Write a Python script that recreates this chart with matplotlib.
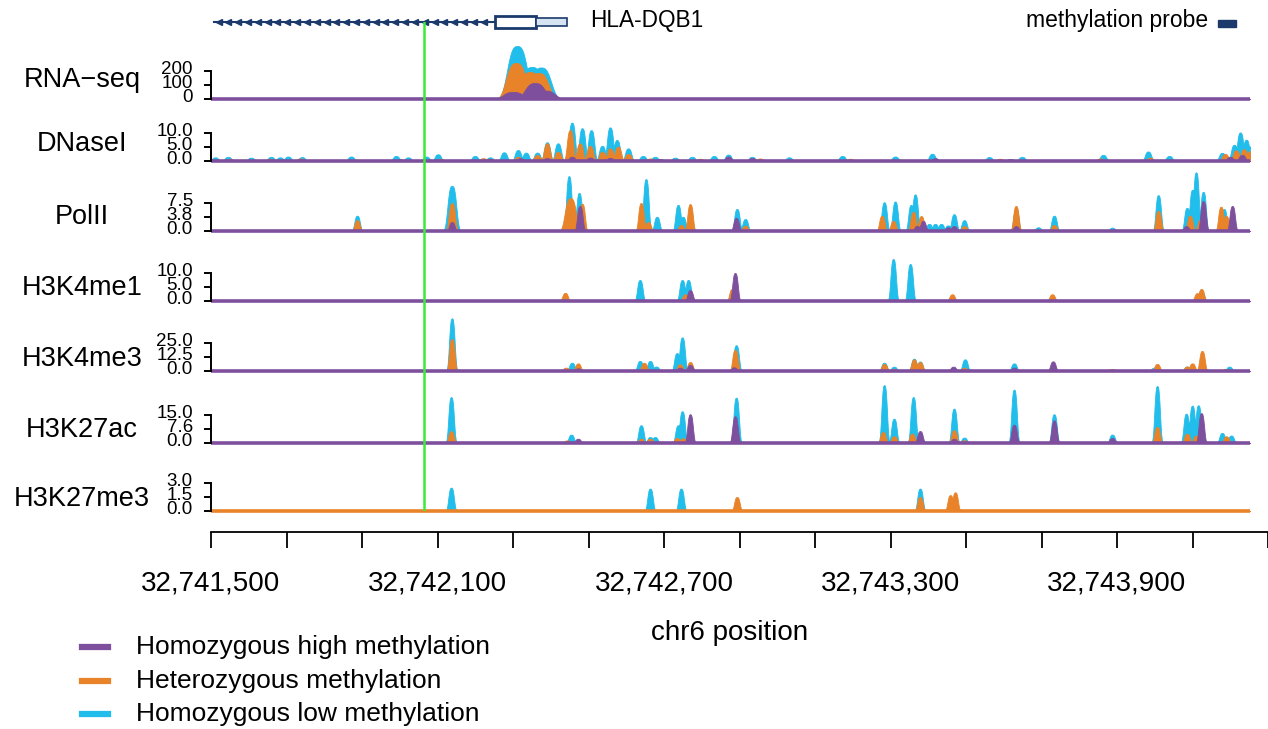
import numpy as np
import matplotlib
matplotlib.use("Agg")
import matplotlib.pyplot as plt
import matplotlib.transforms as mtransforms
from matplotlib.patches import Rectangle
from matplotlib.lines import Line2D

plt.rcParams['font.family'] = ['Liberation Sans', 'DejaVu Sans']

W, H = 1268, 729

# region / gene model (chr6)
region_start = 32741500
region_end = 32744252
axis_end = 32744300
probe_pos = 32742064
gene_name = "HLA-DQB1"
gene_start = 32741508
cds_start = 32742252
cds_end = 32742361
utr_end = 32742443

groups = ["Homozygous high methylation", "Heterozygous methylation", "Homozygous low methylation"]
col_high = "#7E4F9D"
col_het = "#E9832A"
col_low = "#21BDEB"
navy = "#1B3A6B"

track_names = ["RNA\u2212seq", "DNaseI", "PolII", "H3K4me1", "H3K4me3", "H3K27ac", "H3K27me3"]
track_ticks = [[0, 100, 200], [0, 5, 10], [0, 3.75, 7.5], [0, 5, 10], [0, 12.5, 25], [0, 7.6, 15], [0, 1.5, 3]]
track_ticklabels = [["0", "100", "200"], ["0.0", "5.0", "10.0"], ["0.0", "3.8", "7.5"], ["0.0", "5.0", "10.0"],
                    ["0.0", "12.5", "25.0"], ["0.0", "7.6", "15.0"], ["0.0", "1.5", "3.0"]]
peak_sd = [25, 8, 7, 7, 7, 7, 7]

# peaks: (position, signal[, width]) per methylation group
rna_low = [(32742311, 378), (32742350, 229), (32742374, 225)]
rna_het = [(32742308, 257), (32742345, 193), (32742368, 185)]
rna_high = [(32742300, 50), (32742358, 114), (32742385, 60)]

dnase_low = [(32741511, 1.3), (32741545, 1.5), (32741606, 1.2), (32741659, 1.5), (32741683, 1.3),
             (32741704, 1.6), (32741741, 1.4), (32741871, 1.6), (32741990, 1.8), (32742022, 1.3),
             (32742070, 1.6), (32742101, 2.4), (32742199, 1.8), (32742239, 1.3), (32742276, 3.1),
             (32742313, 3.9), (32742334, 3.0), (32742364, 3.0), (32742390, 6.7), (32742419, 6.3),
             (32742456, 13.7), (32742483, 11.7), (32742507, 11.0), (32742536, 5.4), (32742557, 12.0),
             (32742575, 7.5), (32742605, 4.5), (32742644, 1.8), (32742676, 1.5), (32742729, 1.2),
             (32742774, 1.5), (32742832, 1.8), (32742870, 2.3), (32742933, 1.5), (32743031, 1.3),
             (32743172, 1.8), (32743312, 1.6), (32743410, 2.6), (32743561, 1.4), (32743648, 1.5),
             (32743863, 2.2), (32743982, 3.4), (32744038, 1.8), (32744178, 2.9), (32744210, 5.8),
             (32744226, 10.2), (32744242, 7.6), (32744252, 5.2)]
dnase_het = [(32741550, 0.8), (32741656, 0.8), (32741736, 0.9), (32742107, 0.8), (32742221, 1.0),
             (32742239, 0.8), (32742313, 1.5), (32742364, 2.1), (32742390, 6.3), (32742419, 3.3),
             (32742451, 11.0), (32742477, 6.3), (32742504, 5.4), (32742536, 3.3), (32742557, 4.5),
             (32742578, 5.1), (32742605, 2.5), (32742663, 0.9), (32742795, 0.8), (32742954, 0.9),
             (32743193, 0.8), (32743590, 0.8), (32743855, 0.9), (32743987, 1.2), (32744186, 2.5),
             (32744215, 3.8), (32744236, 4.2), (32744252, 3.5)]
dnase_high = [(32741736, 0.6), (32742001, 0.6), (32742239, 0.7), (32742319, 1.0), (32742390, 1.0),
              (32742456, 1.5), (32742504, 1.2), (32742557, 1.1), (32742689, 0.7), (32742870, 1.6),
              (32742933, 1.1), (32743418, 1.0), (32743617, 0.7), (32744199, 1.5), (32744231, 2.2)]

polii_low = [(32741887, 4.1), (32742138, 12.1, 11), (32742448, 14.7), (32742475, 10.2),
             (32742652, 13.9), (32742681, 3.8), (32742737, 7.0), (32742750, 3.8), (32742893, 5.9),
             (32742915, 3.2), (32743283, 7.7), (32743312, 7.9), (32743354, 7.0), (32743365, 9.8),
             (32743402, 1.9), (32743418, 1.9), (32743434, 1.9), (32743452, 1.5), (32743468, 4.5),
             (32743495, 2.9), (32743632, 6.0), (32743691, 1.0), (32743733, 4.1), (32743887, 0.9),
             (32744009, 9.6), (32744085, 6.2), (32744099, 11.0), (32744109, 15.7), (32744128, 10.5),
             (32744183, 5.9)]
polii_het = [(32741887, 2.9), (32742138, 7.5, 8), (32742452, 8.8, 14), (32742483, 7.3),
             (32742639, 7.5), (32742658, 2.4), (32742745, 1.6), (32742769, 7.2), (32742915, 1.4),
             (32743277, 4.1), (32743307, 2.7), (32743360, 5.1), (32743381, 4.0), (32743495, 1.3),
             (32743632, 6.7), (32743733, 1.6), (32744009, 5.4), (32744093, 4.1), (32744120, 3.0),
             (32744175, 6.5), (32744189, 4.0)]
polii_high = [(32742138, 2.4), (32742477, 6.7), (32742891, 3.5), (32743370, 1.4), (32743386, 2.7),
              (32743452, 1.0), (32743468, 1.3), (32743632, 1.3), (32744083, 1.3), (32744128, 8.0),
              (32744205, 6.7)]

h3k4me1_low = [(32742636, 7.5), (32742748, 7.5), (32742764, 7.5), (32743307, 15.0), (32743352, 13.2),
               (32744123, 3.8)]
h3k4me1_het = [(32742438, 2.9), (32742756, 2.4), (32742880, 4.3), (32743463, 2.4), (32743728, 2.4),
               (32744112, 2.8), (32744123, 4.3)]
h3k4me1_high = [(32742769, 3.9), (32742888, 10.0)]

h3k4me3_low = [(32742138, 47.0), (32742456, 7.4), (32742636, 9.0), (32742663, 9.0), (32742679, 4.0),
               (32742734, 16.0), (32742748, 30.0), (32742891, 23.0), (32743283, 7.4), (32743309, 3.9),
               (32743362, 11.0), (32743378, 8.5), (32743497, 10.4), (32743627, 6.8), (32743998, 3.0),
               (32744085, 4.0), (32744197, 3.9)]
h3k4me3_het = [(32742138, 28.6), (32742440, 3.0), (32742472, 6.8), (32742647, 7.4), (32742742, 6.0),
               (32742769, 8.0), (32742888, 18.8), (32743283, 6.3), (32743309, 2.0), (32743362, 10.4),
               (32743378, 8.0), (32743495, 3.0), (32743887, 1.8), (32744006, 6.3), (32744085, 4.0),
               (32744099, 6.8), (32744125, 17.9), (32744189, 1.8)]
h3k4me3_high = [(32742472, 2.4), (32742742, 3.0), (32742769, 5.4), (32742885, 3.3), (32743466, 3.9),
                (32743627, 3.0), (32743730, 8.6)]

h3k27ac_low = [(32742136, 24.6), (32742454, 4.5), (32742639, 9.5), (32742663, 3.2), (32742676, 3.2),
               (32742737, 9.5), (32742748, 17.0), (32742891, 24.3), (32743283, 31.0), (32743309, 13.0),
               (32743360, 24.6), (32743468, 18.4), (32743495, 2.9), (32743627, 28.6), (32743733, 15.4),
               (32743887, 4.5), (32744006, 30.5), (32744083, 15.7), (32744099, 20.0), (32744115, 20.2),
               (32744178, 5.4), (32744202, 4.0)]
h3k27ac_het = [(32742136, 6.3), (32742443, 1.4), (32742639, 2.3), (32742663, 2.3), (32742734, 2.7),
               (32742750, 2.5), (32742888, 10.0), (32743280, 5.9), (32743309, 3.6), (32743357, 5.0),
               (32743468, 6.8), (32743495, 1.5), (32744006, 8.6), (32744085, 5.0), (32744109, 4.0),
               (32744189, 3.6)]
h3k27ac_high = [(32742472, 2.3), (32742769, 15.4), (32742888, 14.3), (32743378, 6.4), (32743468, 2.3),
                (32743627, 9.8), (32743733, 12.1), (32743887, 2.7), (32744123, 16.0)]

h3k27me3_low = [(32742136, 2.5), (32742663, 2.4), (32742745, 2.4), (32743378, 2.4)]
h3k27me3_het = [(32742893, 1.5), (32743378, 1.5), (32743458, 1.7), (32743471, 2.0)]
h3k27me3_high = []

tracks = [(rna_low, rna_het, rna_high), (dnase_low, dnase_het, dnase_high),
          (polii_low, polii_het, polii_high), (h3k4me1_low, h3k4me1_het, h3k4me1_high),
          (h3k4me3_low, h3k4me3_het, h3k4me3_high), (h3k27ac_low, h3k27ac_het, h3k27ac_high),
          (h3k27me3_low, h3k27me3_het, h3k27me3_high)]

# layout in pixels
baselines = [99, 161, 231, 301, 371, 443, 511]
label_lift = [12, 10, 7, 6, 5, 6, 5]
data_left, data_w = 211, 1039

x = np.arange(region_start, region_end + 1)


def profile(peaks, sd):
    y = np.zeros(len(x))
    for pk in peaks:
        w = pk[2] if len(pk) > 2 else sd
        y = np.maximum(y, pk[1] * np.exp(-0.5 * np.abs((x - pk[0]) / w) ** 3))
    return y


fig = plt.figure(figsize=(W / 100, H / 100), dpi=100)
lift = mtransforms.ScaledTranslation(0, 3.5 / 100, fig.dpi_scale_trans)

for i, name in enumerate(track_names):
    base = baselines[i]
    top = track_ticks[i][-1]
    upp = top / 28.0
    ax = fig.add_axes([data_left / W, (H - base - 3) / H, data_w / W, 65 / H])
    ax.patch.set_alpha(0)
    ax.set_xlim(region_start, region_end)
    ax.set_ylim(-3 * upp, 62 * upp)
    low, het, high = tracks[i]
    for peaks, c in [(low, col_low), (het, col_het), (high, col_high)]:
        if peaks:
            ax.fill_between(x, 0, profile(peaks, peak_sd[i]), color=c, lw=0.6)
    ax.axhline(0, color=col_high if high else col_het, lw=2.6)
    for s in ["top", "right", "bottom"]:
        ax.spines[s].set_visible(False)
    ax.spines["left"].set_bounds(0, top)
    ax.spines["left"].set_linewidth(1.4)
    ax.set_xticks([])
    ax.set_yticks(track_ticks[i], track_ticklabels[i])
    ax.tick_params(axis="y", length=5, width=1.4, labelsize=13.5, pad=8)
    for lab in ax.get_yticklabels():
        lab.set_transform(lab.get_transform() + lift)
    fig.text(82 / W, 1 - (base - label_lift[i]) / H, name, ha="center", va="baseline", fontsize=19.5)

# genomic axis
axx = fig.add_axes([data_left / W, (H - 532) / H, (W - data_left) / W, 20 / H])
axx.patch.set_alpha(0)
axx.set_xlim(region_start, axis_end)
for s in ["top", "right", "left"]:
    axx.spines[s].set_visible(False)
axx.spines["bottom"].set_linewidth(1.3)
xt = np.arange(region_start, axis_end + 1, 200)
axx.set_xticks(xt, [f"{v:,}" if (v - region_start) % 600 == 0 else "" for v in xt])
axx.set_yticks([])
axx.tick_params(axis="x", length=11.5, width=1.3, labelsize=20, pad=16.5)
fig.text(730 / W, 1 - 633 / H, "chr6 position", ha="center", va="center", fontsize=20)

# gene model
axg = fig.add_axes([data_left / W, (H - 34) / H, data_w / W, 24 / H])
axg.set_xlim(region_start, region_end)
axg.set_ylim(34, 10)
axg.axis("off")
axg.plot([gene_start, cds_start], [22, 22], color=navy, lw=1.5)
chev = np.arange(gene_start + 12, cds_start - 5, 26)
axg.plot(chev, np.full(len(chev), 22), ls="none", marker="<", ms=4.5, color=navy)
axg.add_patch(Rectangle((cds_start, 16), cds_end - cds_start, 12, fc="white", ec=navy, lw=2))
axg.add_patch(Rectangle((cds_end, 18), utr_end - cds_end, 8, fc="#D5E3F3", ec=navy, lw=1.2))
fig.text(590 / W, 1 - 21 / H, gene_name, ha="left", va="center", fontsize=16.3)

fig.text(1208 / W, 1 - 21 / H, "methylation probe", ha="right", va="center", fontsize=16.5)
fig.add_artist(Rectangle((1218 / W, (H - 27) / H), 18 / W, 7 / H, transform=fig.transFigure,
                         color=navy))

# probe position
axp = fig.add_axes([data_left / W, (H - 511) / H, data_w / W, 489 / H])
axp.set_xlim(region_start, region_end)
axp.axis("off")
axp.axvline(probe_pos, color="#3BEA3B", lw=1.8)

# legend
for yy, lab, c in zip([647, 681, 714], groups, [col_high, col_het, col_low]):
    fig.add_artist(Line2D([82 / W, 108 / W], [1 - yy / H, 1 - yy / H], color=c, lw=4.5))
    fig.text(136 / W, 1 - yy / H, lab, ha="left", va="center", fontsize=19)

fig.savefig("out.png", dpi=100)
